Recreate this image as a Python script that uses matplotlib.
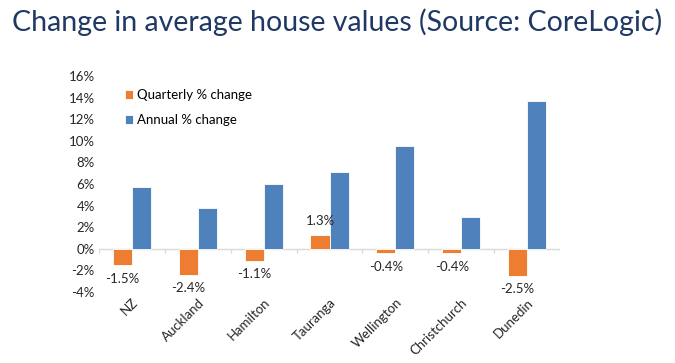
import matplotlib.pyplot as plt
import matplotlib.transforms as mtransforms
import numpy as np

cities = ["NZ", "Auckland", "Hamilton", "Tauranga", "Wellington", "Christchurch", "Dunedin"]
quarterly = [-1.5, -2.4, -1.1, 1.3, -0.4, -0.4, -2.5]
annual = [5.7, 3.8, 6.0, 7.1, 9.5, 2.9, 13.7]
yticks = [-4, -2, 0, 2, 4, 6, 8, 10, 12, 14, 16]

orange = "#ED7D31"
blue = "#4F81BD"
font = ["Lato", "DejaVu Sans"]

fig = plt.figure(figsize=(6.75, 3.63), dpi=100)
ax = fig.add_axes([0.1467, 0.1956, 0.683, 0.595])

x = np.arange(len(cities))
w = 0.29
ax.bar(x - w / 2, quarterly, w, color=orange, edgecolor="white", linewidth=0.6,
       label="Quarterly % change")
ax.bar(x + w / 2, annual, w, color=blue, edgecolor="white", linewidth=0.6,
       label="Annual % change")

# data labels for quarterly bars
for xi, v in zip(x, quarterly):
    if v < 0:
        ax.text(xi - w / 2, v - 0.7, f"{v:.1f}%", ha="center", va="top",
                fontsize=9.5, family=font, color="#262626")
    else:
        ax.text(xi - w / 2, v + 0.7, f"{v:.1f}%", ha="center", va="bottom",
                fontsize=9.5, family=font, color="#262626")

# zero line with category tick marks
ax.axhline(0, color="#D9D9D9", linewidth=1, zorder=0)
bounds = np.arange(len(cities) + 1) - 0.5
ax.vlines(bounds, -0.4, 0, color="#D9D9D9", linewidth=1, zorder=0)

ax.set_xlim(-0.5, len(cities) - 0.5)
ax.set_ylim(-4, 16)
ax.set_yticks(yticks)
ax.set_yticklabels([f"{t}%" for t in yticks], family=font, fontsize=9.5, color="#262626")
ax.set_xticks(x)
ax.set_xticklabels(cities, rotation=45, ha="right", rotation_mode="anchor",
                   family=font, fontsize=9.5, color="#262626")
offset = mtransforms.ScaledTranslation(6 / 100, -10 / 100, fig.dpi_scale_trans)
for lbl in ax.get_xticklabels():
    lbl.set_transform(lbl.get_transform() + offset)
ax.tick_params(length=0, pad=3)
for s in ax.spines.values():
    s.set_visible(False)

ax.legend(loc="upper left", bbox_to_anchor=(0.03, 0.995), frameon=False,
          handlelength=0.65, handleheight=0.65, handletextpad=0.25, labelspacing=1.0,
          prop={"family": font, "size": 9.5})

fig.text(0.018, 0.94, "Change in average house values (Source: CoreLogic)",
         family=font, fontsize=20.5, color="#1F3864", va="center", ha="left")

fig.savefig("out.png", dpi=100)
